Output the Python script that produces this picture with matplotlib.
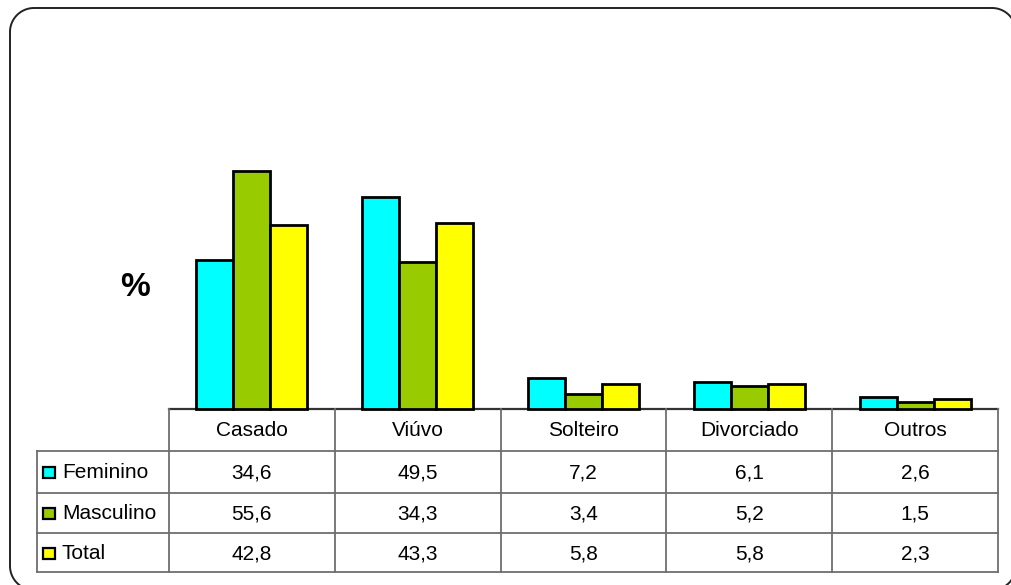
import numpy as np
import matplotlib
matplotlib.use("Agg")
import matplotlib.pyplot as plt
from matplotlib.patches import Rectangle

plt.rcParams['font.family'] = ['Liberation Sans', 'DejaVu Sans']

# Estado civil por sexo (%)
categorias = ['Casado', 'Viúvo', 'Solteiro', 'Divorciado', 'Outros']
series = ['Feminino', 'Masculino', 'Total']
feminino = [34.6, 49.5, 7.2, 6.1, 2.6]
masculino = [55.6, 34.3, 3.4, 5.2, 1.5]
total = [42.8, 43.3, 5.8, 5.8, 2.3]
cores = ['#00FFFF', '#99CC00', '#FFFF00']

W, H = 1011, 585
fig = plt.figure(figsize=(W / 100, H / 100), dpi=100)

# geometria em pixels
x_esq_tab, x_col0, x_dir = 37, 169, 998
y_base, y_topo = 408.5, 40
linhas_y = [408.5, 451, 492.5, 533, 572]
px_por_unidade = 4.28

# camada de fundo em coordenadas de pixel (moldura e tabela)
bg = fig.add_axes([0, 0, 1, 1])
bg.set_xlim(0, W)
bg.set_ylim(H, 0)
bg.axis('off')


def moldura_arredondada(x0, y0, x1, y1, r, n=30):
    # contorno de um retângulo com cantos arredondados (y cresce para baixo)
    pts = []
    cantos = [(x1 - r, y0 + r, -90, 0), (x1 - r, y1 - r, 0, 90),
              (x0 + r, y1 - r, 90, 180), (x0 + r, y0 + r, 180, 270)]
    for cx, cy, a0, a1 in cantos:
        t = np.radians(np.linspace(a0, a1, n))
        pts.append(np.column_stack([cx + r * np.cos(t), cy + r * np.sin(t)]))
    pts = np.vstack(pts + [pts[0][:1]])
    return pts[:, 0], pts[:, 1]


fx, fy = moldura_arredondada(10, 8, 1016, 590, 24)
bg.plot(fx, fy, color='#222222', lw=1.4)

# gráfico de barras
ax = fig.add_axes([x_col0 / W, 1 - y_base / H,
                   (x_dir - x_col0) / W, (y_base - y_topo) / H])
ax.set_xlim(-0.5, len(categorias) - 0.5)
ax.set_ylim(0, (y_base - y_topo) / px_por_unidade)
ax.axis('off')

x = np.arange(len(categorias))
larg = 0.223
for i, (vals, cor) in enumerate(zip([feminino, masculino, total], cores)):
    ax.bar(x + (i - 1) * larg, vals, width=larg, color=cor,
           edgecolor='black', linewidth=2.0, clip_on=False)

fig.text(135 / W, 1 - 288 / H, '%', fontsize=24, fontweight='bold',
         ha='center', va='center')

# tabela de dados
cor_linha = '#6e6e6e'
larg_col = (x_dir - x_col0) / len(categorias)
bg.plot([x_col0, x_dir], [linhas_y[0], linhas_y[0]], color='#333333', lw=1.6)
for y in linhas_y[1:]:
    bg.plot([x_esq_tab, x_dir], [y, y], color=cor_linha, lw=1.3)
bg.plot([x_esq_tab, x_esq_tab], [linhas_y[1], linhas_y[-1]], color=cor_linha, lw=1.3)
for j in range(len(categorias) + 1):
    xc = x_col0 + j * larg_col
    bg.plot([xc, xc], [linhas_y[0], linhas_y[-1]], color=cor_linha, lw=1.3)

for j, cat in enumerate(categorias):
    xc = x_col0 + (j + 0.5) * larg_col
    bg.text(xc, (linhas_y[0] + linhas_y[1]) / 2 + 1, cat, fontsize=15,
            ha='center', va='center')

for i, (nome, vals, cor) in enumerate(zip(series, [feminino, masculino, total], cores)):
    yc = (linhas_y[i + 1] + linhas_y[i + 2]) / 2 + 1
    bg.add_patch(Rectangle((43, yc - 6), 11.5, 11.5, fc=cor, ec='black', lw=1.6))
    bg.text(62, yc, nome, fontsize=15, ha='left', va='center')
    for j, v in enumerate(vals):
        xc = x_col0 + (j + 0.5) * larg_col
        bg.text(xc, yc, f'{v:.1f}'.replace('.', ','), fontsize=15,
                ha='center', va='center')

fig.savefig('out.png', dpi=100)
